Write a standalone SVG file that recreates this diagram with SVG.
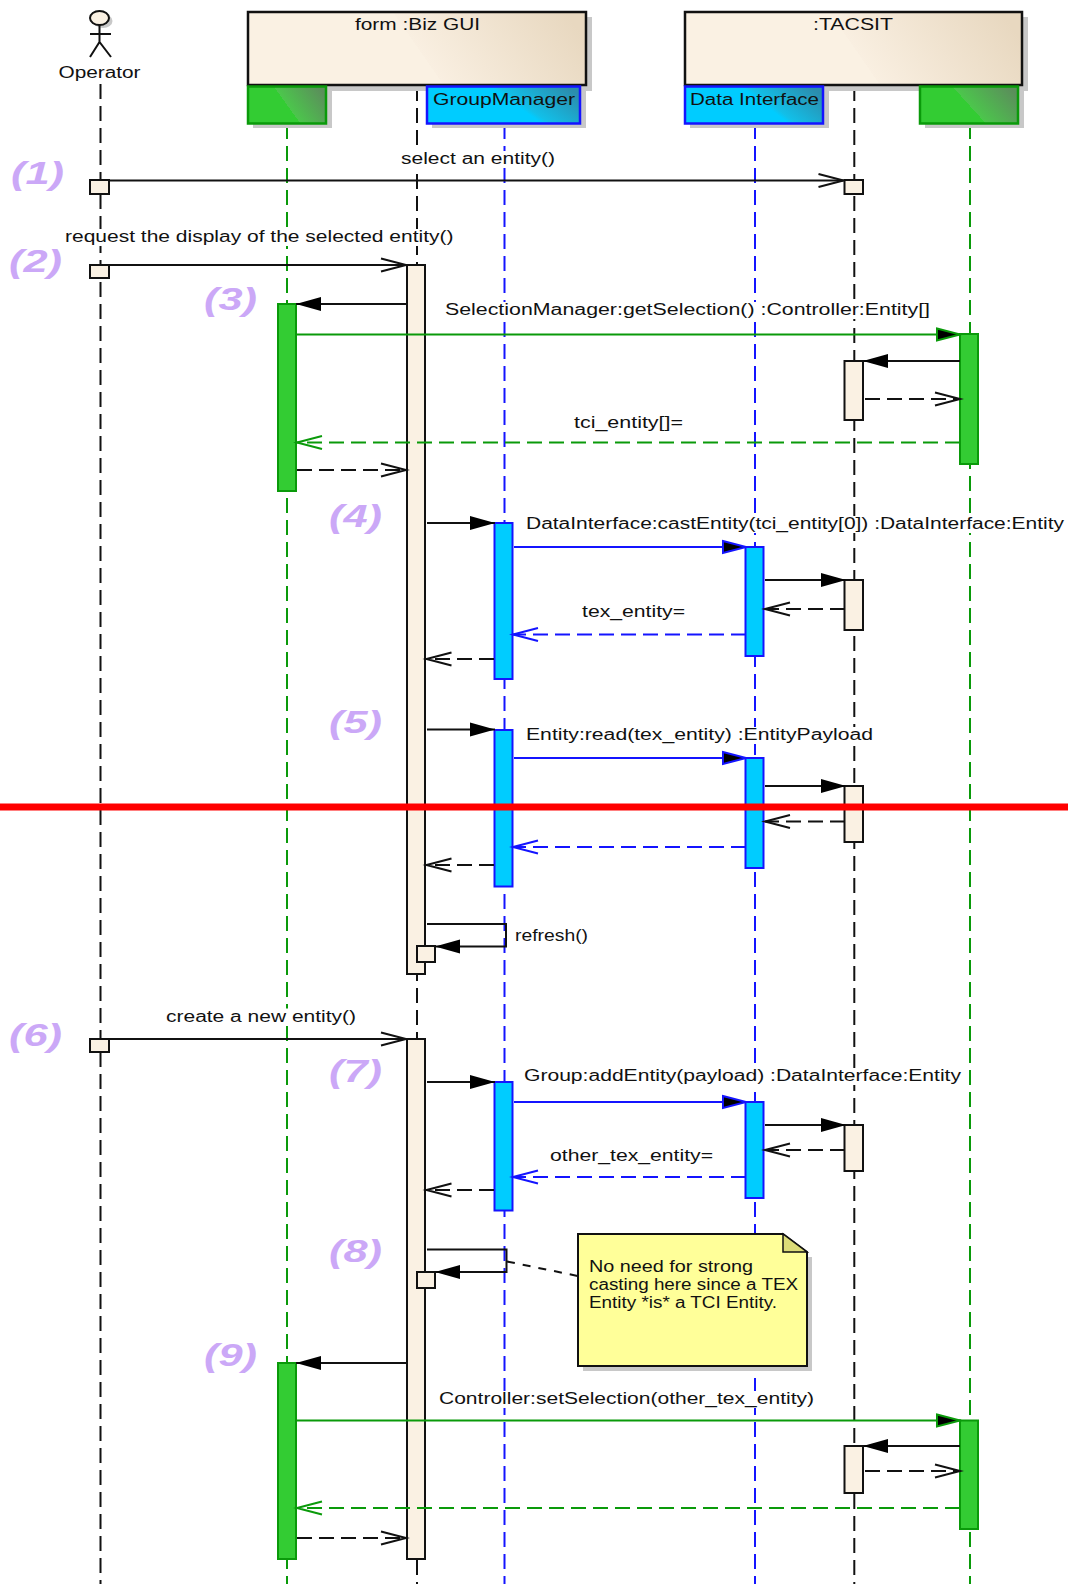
<svg xmlns="http://www.w3.org/2000/svg" width="1068" height="1584" viewBox="0 0 1068 1584">
<style>
text{font-family:"Liberation Sans",Arial,sans-serif;font-size:16px;fill:#111}
.num{font-size:32px;font-weight:bold;font-style:italic;fill:#cba8f7}
.bg{fill:#fff}
.shadow{fill:#c8c8c8}
.ll{fill:none;stroke-width:2;stroke-dasharray:15 7}
.k{stroke:#111}.g{stroke:#0a9a0a}.b{stroke:#1414ff}
.box{stroke-width:2.5}
.act{stroke-width:2}
.ab{fill:#faf1e3;stroke:#111}
.ag{fill:#33cc33;stroke:#0a9a0a}
.ac{fill:#00ccff;stroke:#1414ff}
.m{fill:none;stroke-width:2}
.d{stroke-dasharray:15 7}
.fk{marker-end:url(#fk)}.fg{marker-end:url(#fg)}.fb{marker-end:url(#fb)}
.ok{marker-end:url(#ok)}.og{marker-end:url(#og)}.ob{marker-end:url(#ob)}
</style>
<defs>
<linearGradient id="gF" x1="0" y1="0.55" x2="1" y2="0.4"><stop offset="0.5" stop-color="#faf1e3"/><stop offset="0.5" stop-color="#f9efe1"/><stop offset="1" stop-color="#e8d8c0"/></linearGradient>
<linearGradient id="gG" x1="0" y1="0.6" x2="1" y2="0.26"><stop offset="0.48" stop-color="#33cc33"/><stop offset="0.48" stop-color="#4cc64c"/><stop offset="1" stop-color="#5b8e5b"/></linearGradient>
<linearGradient id="gB" x1="0" y1="0.6" x2="1" y2="0.26"><stop offset="0.55" stop-color="#00ccff"/><stop offset="0.6" stop-color="#12bfe8"/><stop offset="1" stop-color="#2b8dad"/></linearGradient>
<marker id="fk" markerUnits="userSpaceOnUse" markerWidth="27" markerHeight="16" refX="25" refY="7" orient="auto" overflow="visible"><path d="M0 0L25 7L0 14Z" fill="#000"/></marker>
<marker id="fg" markerUnits="userSpaceOnUse" markerWidth="27" markerHeight="16" refX="25" refY="7" orient="auto" overflow="visible"><path d="M1 1L24 7L1 13Z" fill="#000" stroke="#0a9a0a" stroke-width="2"/></marker>
<marker id="fb" markerUnits="userSpaceOnUse" markerWidth="27" markerHeight="16" refX="25" refY="7" orient="auto" overflow="visible"><path d="M1 1L24 7L1 13Z" fill="#000" stroke="#1414ff" stroke-width="2"/></marker>
<marker id="ok" markerUnits="userSpaceOnUse" markerWidth="26" markerHeight="15" refX="25" refY="6.5" orient="auto" overflow="visible"><path d="M0 0L25 6.5L0 13" fill="none" stroke="#111" stroke-width="2"/></marker>
<marker id="og" markerUnits="userSpaceOnUse" markerWidth="26" markerHeight="15" refX="25" refY="6.5" orient="auto" overflow="visible"><path d="M0 0L25 6.5L0 13" fill="none" stroke="#0a9a0a" stroke-width="2"/></marker>
<marker id="ob" markerUnits="userSpaceOnUse" markerWidth="26" markerHeight="15" refX="25" refY="6.5" orient="auto" overflow="visible"><path d="M0 0L25 6.5L0 13" fill="none" stroke="#1414ff" stroke-width="2"/></marker>
</defs>
<rect width="1068" height="1584" fill="#fff"/>

<g id="form-biz-gui">
<path class="ll k" d="M417 86V1584"/>
<rect class="shadow" x="253" y="17" width="339" height="74"/>
<rect class="box k" x="248" y="12" width="338" height="73" fill="url(#gF)"/>
<text x="355" y="30" textLength="125" lengthAdjust="spacingAndGlyphs">form :Biz GUI</text>
<rect class="act ab" x="407" y="265" width="18" height="709"/>
<rect class="act ab" x="407" y="1039" width="18" height="520"/>
<rect class="act ab" x="417" y="946" width="18" height="16"/>
<rect class="act ab" x="417" y="1272" width="18" height="16"/>
</g>

<g id="tacsit">
<path class="ll k" d="M854.300 86V1584"/>
<rect class="shadow" x="691" y="17" width="337" height="74"/>
<rect class="box k" x="685" y="12" width="337" height="73" fill="url(#gF)"/>
<text x="813" y="30" textLength="80" lengthAdjust="spacingAndGlyphs">:TACSIT</text>
<rect class="act ab" x="844.500" y="180" width="18.500" height="14"/>
<rect class="act ab" x="844.500" y="361" width="18.500" height="59"/>
<rect class="act ab" x="844.500" y="580" width="18.500" height="50"/>
<rect class="act ab" x="844.500" y="786" width="18.500" height="56"/>
<rect class="act ab" x="844.500" y="1125" width="18.500" height="46"/>
<rect class="act ab" x="844.500" y="1446" width="18.500" height="47"/>
</g>

<g id="operator">
<path class="ll k" d="M100.500 84V1584"/>
<ellipse cx="103" cy="21" rx="9.500" ry="7" class="shadow"/>
<ellipse cx="99.500" cy="18" rx="9.500" ry="7" class="ab" stroke-width="2"/>
<path class="m k" d="M99.500 25V42M90 34H111M90 57L99.500 42L111 57"/>
<text x="58.500" y="78" textLength="82" lengthAdjust="spacingAndGlyphs">Operator</text>
<rect class="act ab" x="90" y="180" width="19" height="14"/>
<rect class="act ab" x="90" y="265" width="19" height="13"/>
<rect class="act ab" x="90" y="1039" width="19" height="13"/>
</g>

<g id="green-left">
<path class="ll g" d="M287 124V1584"/>
<rect class="shadow" x="253" y="91" width="79" height="37"/>
<rect class="box g" x="248" y="86.500" width="78" height="37" fill="url(#gG)"/>
<rect class="act ag" x="278" y="304" width="18" height="187"/>
<rect class="act ag" x="278" y="1363" width="18" height="196"/>
</g>

<g id="group-manager">
<path class="ll b" d="M504.500 124V1584"/>
<rect class="shadow" x="432" y="91" width="154" height="37"/>
<rect class="box b" x="427" y="86.500" width="153" height="37" fill="url(#gB)"/>
<text x="433" y="105" textLength="142" lengthAdjust="spacingAndGlyphs">GroupManager</text>
<rect class="act ac" x="494.500" y="523" width="18" height="156"/>
<rect class="act ac" x="494.500" y="730" width="18" height="156.500"/>
<rect class="act ac" x="494.500" y="1082" width="18" height="128.500"/>
</g>

<g id="data-interface">
<path class="ll b" d="M755 124V1584"/>
<rect class="shadow" x="690" y="91" width="139" height="37"/>
<rect class="box b" x="685" y="86.500" width="138" height="37" fill="url(#gB)"/>
<text x="690" y="105" textLength="129" lengthAdjust="spacingAndGlyphs">Data Interface</text>
<rect class="act ac" x="745.500" y="547" width="18" height="109"/>
<rect class="act ac" x="745.500" y="758" width="18" height="110"/>
<rect class="act ac" x="745.500" y="1102" width="18" height="96"/>
</g>

<g id="green-right">
<path class="ll g" d="M970 124V1584"/>
<rect class="shadow" x="925" y="91" width="99" height="37"/>
<rect class="box g" x="920" y="86.500" width="98" height="37" fill="url(#gG)"/>
<rect class="act ag" x="960" y="334" width="18" height="130"/>
<rect class="act ag" x="960" y="1420.500" width="18" height="108.500"/>
</g>

<g id="connectors">
<rect class="bg" x="401" y="151" width="154" height="17"/>
<text x="401" y="164" textLength="154" lengthAdjust="spacingAndGlyphs">select an entity()</text>
<path class="m k ok" d="M109 180.500H843.500"/>
<rect class="bg" x="65" y="229" width="389" height="17"/>
<text x="65" y="242" textLength="388.500" lengthAdjust="spacingAndGlyphs">request the display of the selected entity()</text>
<path class="m k ok" d="M109 265H406"/>
<path class="m k fk" d="M407 304H296"/>
<rect class="bg" x="445" y="302" width="485" height="17"/>
<text x="445" y="315" textLength="485" lengthAdjust="spacingAndGlyphs">SelectionManager:getSelection() :Controller:Entity[]</text>
<path class="m g fg" d="M297 334.500H961"/>
<path class="m k fk" d="M960 361H863"/>
<path class="m k d ok" d="M865 399H960"/>
<rect class="bg" x="574" y="415" width="109" height="17"/>
<text x="574" y="428" textLength="109" lengthAdjust="spacingAndGlyphs">tci_entity[]=</text>
<path class="m g d og" d="M960 442.500H297"/>
<path class="m k d ok" d="M297 470H406"/>

<path class="m k fk" d="M427 523H495"/>
<rect class="bg" x="526" y="516" width="538" height="17"/>
<text x="526" y="529" textLength="538" lengthAdjust="spacingAndGlyphs">DataInterface:castEntity(tci_entity[0]) :DataInterface:Entity</text>
<path class="m b fb" d="M514 547H747"/>
<path class="m k fk" d="M765 580H846"/>
<path class="m k d ok" d="M845 609H765"/>
<rect class="bg" x="582" y="604" width="103" height="17"/>
<text x="582" y="617" textLength="103" lengthAdjust="spacingAndGlyphs">tex_entity=</text>
<path class="m b d ob" d="M746 634.500H513"/>
<path class="m k d ok" d="M494 659H426.500"/>

<path class="m k fk" d="M427 729.500H495"/>
<rect class="bg" x="526" y="727" width="347" height="17"/>
<text x="526" y="740" textLength="347" lengthAdjust="spacingAndGlyphs">Entity:read(tex_entity) :EntityPayload</text>
<path class="m b fb" d="M514 758H747"/>
<path class="m k fk" d="M765 786H846"/>
<path class="m k d ok" d="M845 821.500H765"/>
<path class="m b d ob" d="M746 847H513"/>
<path class="m k d ok" d="M494 865H426.500"/>

<path class="m k fk" d="M427 924H506V946.500H435"/>
<text x="515" y="941" textLength="73" lengthAdjust="spacingAndGlyphs">refresh()</text>

<rect class="bg" x="166" y="1008.500" width="190" height="17"/>
<text x="166" y="1021.500" textLength="190" lengthAdjust="spacingAndGlyphs">create a new entity()</text>
<path class="m k ok" d="M109 1039H406"/>
<path class="m k fk" d="M427 1082H495"/>
<rect class="bg" x="524" y="1068" width="437" height="17"/>
<text x="524" y="1081" textLength="437" lengthAdjust="spacingAndGlyphs">Group:addEntity(payload) :DataInterface:Entity</text>
<path class="m b fb" d="M514 1102H747"/>
<path class="m k fk" d="M765 1125H846"/>
<path class="m k d ok" d="M845 1150H765"/>
<rect class="bg" x="550" y="1148" width="163" height="17"/>
<text x="550" y="1161" textLength="163" lengthAdjust="spacingAndGlyphs">other_tex_entity=</text>
<path class="m b d ob" d="M746 1177H513"/>
<path class="m k d ok" d="M494 1190H426.500"/>

<path class="m k fk" d="M427 1249.500H506.500V1272H435"/>
<path class="m k" stroke-dasharray="8 8" d="M507 1261.500L578 1276"/>

<path class="m k fk" d="M407 1363H296"/>
<rect class="bg" x="439" y="1391" width="375" height="17"/>
<text x="439" y="1404" textLength="375" lengthAdjust="spacingAndGlyphs">Controller:setSelection(other_tex_entity)</text>
<path class="m g fg" d="M297 1420.500H961"/>
<path class="m k fk" d="M960 1446H863"/>
<path class="m k d ok" d="M865 1471H960"/>
<path class="m g d og" d="M960 1508H297"/>
<path class="m k d ok" d="M297 1538H406"/>
</g>

<g id="note">
<path class="shadow" d="M807 1257H812V1371H583V1366H807Z"/>
<path d="M578 1234H783L807 1252V1366H578Z" fill="#ffff99" stroke="#111" stroke-width="2"/>
<path d="M783 1234L807 1252H783Z" fill="#dcdc78" stroke="#111" stroke-width="1.500"/>
<text x="589" y="1272" textLength="164" lengthAdjust="spacingAndGlyphs">No need for strong</text>
<text x="589" y="1290" textLength="209" lengthAdjust="spacingAndGlyphs">casting here since a TEX</text>
<text x="589" y="1308" textLength="188" lengthAdjust="spacingAndGlyphs">Entity *is* a TCI Entity.</text>
</g>

<g id="step-numbers">
<text class="num" x="11" y="184" textLength="53" lengthAdjust="spacingAndGlyphs">(1)</text>
<text class="num" x="9" y="272" textLength="53" lengthAdjust="spacingAndGlyphs">(2)</text>
<text class="num" x="204" y="310" textLength="53" lengthAdjust="spacingAndGlyphs">(3)</text>
<text class="num" x="329" y="527" textLength="53" lengthAdjust="spacingAndGlyphs">(4)</text>
<text class="num" x="329" y="733" textLength="53" lengthAdjust="spacingAndGlyphs">(5)</text>
<text class="num" x="9" y="1046" textLength="53" lengthAdjust="spacingAndGlyphs">(6)</text>
<text class="num" x="329" y="1082" textLength="53" lengthAdjust="spacingAndGlyphs">(7)</text>
<text class="num" x="329" y="1262" textLength="53" lengthAdjust="spacingAndGlyphs">(8)</text>
<text class="num" x="204" y="1366" textLength="53" lengthAdjust="spacingAndGlyphs">(9)</text>
</g>

<rect id="red-line" x="0" y="803.500" width="1068" height="7" fill="#ff0000"/>
</svg>
